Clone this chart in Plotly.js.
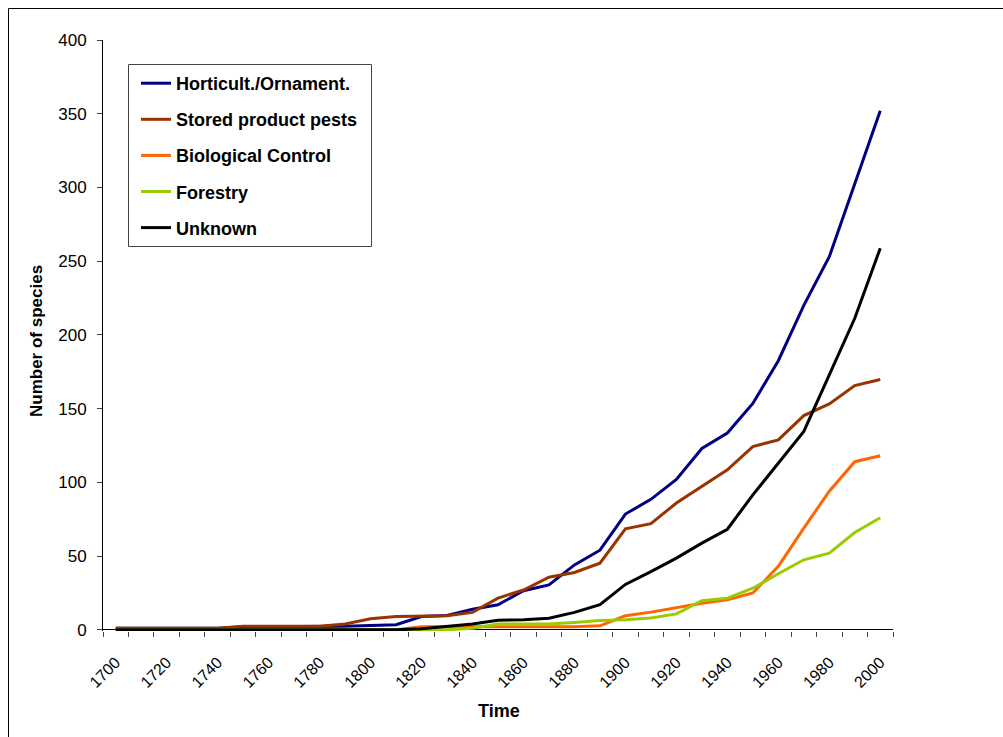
<!DOCTYPE html>
<html>
<head>
<meta charset="utf-8">
<script src="https://cdn.plot.ly/plotly-3.0.1.min.js"></script>
<style>
html,body{margin:0;padding:0;background:#fff;}
#chart{width:1003px;height:737px;}
</style>
</head>
<body>
<div id="chart"></div>
<script>
var years = [1700,1710,1720,1730,1740,1750,1760,1770,1780,1790,1800,1810,1820,1830,1840,1850,1860,1870,1880,1890,1900,1910,1920,1930,1940,1950,1960,1970,1980,1990,2000];
var horticult = [1,1,1,1,1,2,2,2,2,2.5,3,3.5,9,9.7,14,17,26.5,30.5,44,54,78.5,88.5,102,123,133.5,153.5,182.5,220,253,303,352];
var storedPests = [1,1,1,1,1,2.5,2.5,2.5,2.5,4,7.5,9,9.3,9.5,11.8,21.5,27,35.7,38.9,45.2,68.5,72,86,97.2,108.5,124.3,128.8,145.3,153.2,165.6,169.8];
var bioControl = [0,0,0,0,0,0,0,0,0,0,0,0,2,2,2,2,2,2,2,2.7,9.5,12,15,18,20.3,25,43,69,94,114,118];
var forestry = [0,0,0,0,0,0,0,0,0,0,0,0,0,0,1,4,4,4,5,6.3,6.8,8,10.8,19.7,21.5,28.2,38,47.5,52,66,76];
var unknown = [0,0,0,0,0,0,0,0,0,0,0,0,0.7,2.3,4,6.5,6.8,7.9,11.8,17,30.8,39.5,48.6,58.8,68.2,91.5,113,134.5,172.9,211.3,258.8];
var seriesNames = ["Horticult./Ornament.","Stored product pests","Biological Control","Forestry","Unknown"];
var seriesColors = ["#000080","#993300","#FF6600","#99CC00","#000000"];
var xTickLabels = [1700,1720,1740,1760,1780,1800,1820,1840,1860,1880,1900,1920,1940,1960,1980,2000];
var yTickLabels = [0,50,100,150,200,250,300,350,400];
var xTitle = "Time";
var yTitle = "Number of species";

var seriesData = [horticult, storedPests, bioControl, forestry, unknown];
var traces = seriesData.map(function(vals, i){
  return {
    x: years, y: vals, type: 'scatter', mode: 'lines',
    name: seriesNames[i], legendgroup: 'g'+i,
    line: {color: seriesColors[i], width: 3},
    hoverinfo: 'skip'
  };
});

var FONT = 'Liberation Sans, Arial, sans-serif';
// plot area: x 103..893 px, y 40..631 px
function px2x(p){ return (p-103)/790; }
function px2y(p){ return (631-p)/591; }

var layout = {
  width: 1003, height: 737,
  margin: {l: 103, r: 110, t: 40, b: 106},
  paper_bgcolor: '#fff', plot_bgcolor: '#fff',
  showlegend: true,
  font: {family: FONT, color: '#000'},
  xaxis: {
    range: [1695, 2005],
    tickvals: xTickLabels,
    ticktext: xTickLabels.map(String),
    tickangle: -45,
    ticks: '',
    ticklabelstandoff: 18,
    tickfont: {family: FONT, size: 16, color: '#000'},
    showgrid: false, zeroline: false,
    showline: false,
    minor: {tick0: 1695, dtick: 10, ticks: 'outside', ticklen: 5, tickcolor: '#444', tickwidth: 1, showgrid: false}
  },
  yaxis: {
    range: [-0.8, 400],
    tickvals: yTickLabels,
    ticks: 'outside', ticklen: 5, tickcolor: '#444',
    tickfont: {family: FONT, size: 17, color: '#000'},
    ticklabelstandoff: 7,
    showgrid: false,
    zeroline: true, zerolinecolor: '#000', zerolinewidth: 1,
    showline: true, linecolor: '#000', linewidth: 1
  },
  legend: {
    x: px2x(136), y: px2y(65), xanchor: 'left', yanchor: 'top',
    bgcolor: 'rgba(0,0,0,0)', borderwidth: 0,
    font: {family: FONT, size: 18, color: '#000', weight: 'bold'},
    tracegroupgap: 9.7,
    traceorder: 'grouped'
  },
  annotations: [
    {text: xTitle, xref: 'paper', yref: 'paper', x: px2x(499), y: px2y(711), xanchor: 'center', yanchor: 'middle',
     showarrow: false, font: {family: FONT, size: 18, color: '#000', weight: 'bold'}},
    {text: yTitle, xref: 'paper', yref: 'paper', x: px2x(37), y: px2y(341), xanchor: 'center', yanchor: 'middle',
     textangle: -90, showarrow: false, font: {family: FONT, size: 17, color: '#000', weight: 'bold'}}
  ],
  shapes: [
    {type: 'rect', xref: 'paper', yref: 'paper', x0: px2x(8.5), x1: 1.3, y0: -0.4, y1: px2y(8.5),
     line: {color: '#000', width: 1}, fillcolor: 'rgba(0,0,0,0)', layer: 'below'},
    {type: 'rect', xref: 'paper', yref: 'paper', x0: px2x(128.5), x1: px2x(371.5), y0: px2y(246.5), y1: px2y(64.5),
     line: {color: '#444', width: 1}, fillcolor: '#fff', layer: 'above'}
  ]
};

Plotly.newPlot('chart', traces, layout, {displayModeBar: false, staticPlot: true});
</script>
</body>
</html>
